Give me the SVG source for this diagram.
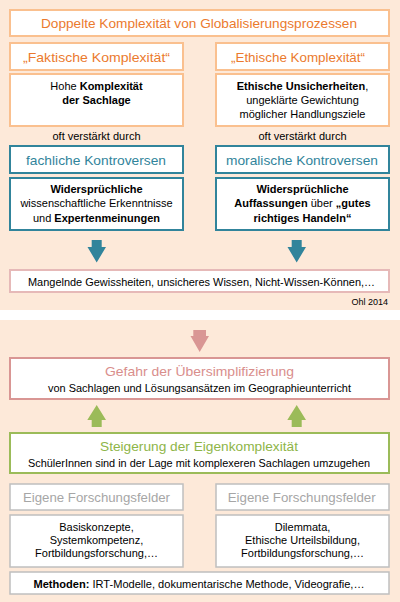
<svg xmlns="http://www.w3.org/2000/svg" width="400" height="602" viewBox="0 0 400 602">
<style>
text{font-family:"Liberation Sans",Arial,sans-serif;text-anchor:middle;fill:#000}
.b{font-weight:bold}
.bx{fill:#fff}
.or{stroke:#FAC08F;stroke-width:2}
.te{stroke:#31849B;stroke-width:2}
.pk{stroke:#E6B9B8;stroke-width:2}
.pk2{stroke:#D99694;stroke-width:2}
.gr{stroke:#9BBB59;stroke-width:2}
.gy{stroke:#BFBFBF;stroke-width:1.5}
.h{font-size:13.5px}
.t{font-size:11px}
.l{font-size:11.5px}
.ot{fill:#EB7A2E}
.tt{fill:#31849B}
.pt{fill:#D98E8C}
.gt{fill:#8EB548}
.yt{fill:#A6A6A6}
</style>
<rect x="0" y="0" width="400" height="310" fill="#FDE9D9"/>
<rect x="0" y="320" width="400" height="282" fill="#FDE9D9"/>

<g id="title"><rect class="bx or" x="10" y="10" width="379" height="26"/>
<text class="h ot" x="199" y="28" textLength="316" lengthAdjust="spacingAndGlyphs">Doppelte Komplexität von Globalisierungsprozessen</text></g>

<g id="faktisch"><rect class="bx or" x="10" y="43" width="173" height="27"/>
<text class="h ot" x="96.5" y="61.5" textLength="147" lengthAdjust="spacingAndGlyphs">„Faktische Komplexität“</text></g>
<g id="ethisch"><rect class="bx or" x="216" y="43" width="173" height="27"/>
<text class="h ot" x="298" y="61.5" textLength="134" lengthAdjust="spacingAndGlyphs">„Ethische Komplexität“</text></g>

<g id="sachlage"><rect class="bx or" x="10" y="74" width="173" height="52"/>
<text class="t" x="96.5" y="90">Hohe <tspan class="b">Komplexität</tspan></text>
<text class="t b" x="96.5" y="103.5">der Sachlage</text></g>
<g id="unsicher"><rect class="bx or" x="216" y="74" width="173" height="52"/>
<text class="t" x="302.5" y="90"><tspan class="b">Ethische Unsicherheiten</tspan>,</text>
<text class="t" x="302.5" y="104">ungeklärte Gewichtung</text>
<text class="t" x="302.5" y="118">möglicher Handlungsziele</text></g>

<text class="t" x="96.5" y="139.5" font-size="10">oft verstärkt durch</text>
<text class="t" x="302.5" y="139.5" font-size="10">oft verstärkt durch</text>

<g id="fachlich"><rect class="bx te" x="10" y="146" width="173" height="27"/>
<text class="h tt" x="96" y="165" textLength="140" lengthAdjust="spacingAndGlyphs">fachliche Kontroversen</text></g>
<g id="moralisch"><rect class="bx te" x="216" y="146" width="173" height="27"/>
<text class="h tt" x="302" y="165" textLength="152" lengthAdjust="spacingAndGlyphs">moralische Kontroversen</text></g>

<g id="erkenntnisse"><rect class="bx te" x="10" y="178" width="173" height="52"/>
<text class="t b" x="96.5" y="192.5">Widersprüchliche</text>
<text class="t" x="96.5" y="206.5">wissenschaftliche Erkenntnisse</text>
<text class="t" x="96.5" y="221.5">und <tspan class="b">Expertenmeinungen</tspan></text></g>
<g id="auffassungen"><rect class="bx te" x="216" y="178" width="173" height="52"/>
<text class="t b" x="302.5" y="192.5">Widersprüchliche</text>
<text class="t" x="302.5" y="206.5"><tspan class="b">Auffassungen</tspan> über <tspan class="b">„gutes</tspan></text>
<text class="t b" x="302.5" y="221.5">richtiges Handeln“</text></g>

<g id="mangelnde"><rect class="bx pk" x="10" y="270" width="379" height="22"/>
<text class="l" x="201.5" y="285.5" textLength="347" lengthAdjust="spacingAndGlyphs">Mangelnde Gewissheiten, unsicheres Wissen, Nicht-Wissen-Können,…</text></g>
<text x="388" y="305" font-size="9" fill="#C4C4C4" style="text-anchor:end">Ohl 2014</text>

<g id="gefahr"><rect class="bx pk2" x="10" y="358" width="379" height="41"/>
<text class="h pt" x="199.5" y="375.5" textLength="189" lengthAdjust="spacingAndGlyphs">Gefahr der Übersimplifizierung</text>
<text class="l" x="199.5" y="391.5" textLength="303" lengthAdjust="spacingAndGlyphs">von Sachlagen und Lösungsansätzen im Geographieunterricht</text></g>

<g id="steigerung"><rect class="bx gr" x="10" y="433" width="379" height="40"/>
<text class="h gt" x="199" y="450.5" textLength="198" lengthAdjust="spacingAndGlyphs">Steigerung der Eigenkomplexität</text>
<text class="l" x="199" y="466.5" textLength="342" lengthAdjust="spacingAndGlyphs">SchülerInnen sind in der Lage mit komplexeren Sachlagen umzugehen</text></g>

<g id="forschung-links"><rect class="bx gy" x="10" y="484" width="173" height="26"/>
<text class="h yt" x="96.5" y="501.5" textLength="147" lengthAdjust="spacingAndGlyphs">Eigene Forschungsfelder</text></g>
<g id="forschung-rechts"><rect class="bx gy" x="216" y="484" width="173" height="26"/>
<text class="h yt" x="301.7" y="501.5" textLength="148" lengthAdjust="spacingAndGlyphs">Eigene Forschungsfelder</text></g>

<g id="felder-links"><rect class="bx gy" x="10" y="515" width="173" height="52"/>
<text class="t" x="96.5" y="530.5">Basiskonzepte,</text>
<text class="t" x="96.5" y="543.5">Systemkompetenz,</text>
<text class="t" x="96.5" y="556.5">Fortbildungsforschung,…</text></g>
<g id="felder-rechts"><rect class="bx gy" x="216" y="515" width="173" height="52"/>
<text class="t" x="302.5" y="530.5">Dilemmata,</text>
<text class="t" x="302.5" y="543.5">Ethische Urteilsbildung,</text>
<text class="t" x="302.5" y="556.5">Fortbildungsforschung,…</text></g>

<g id="methoden"><rect class="bx gy" x="10" y="572" width="379" height="22"/>
<text class="l" x="199" y="587.5" textLength="331" lengthAdjust="spacingAndGlyphs"><tspan class="b">Methoden:</tspan> IRT-Modelle, dokumentarische Methode, Videografie,…</text></g>

<g id="connectors">
<polygon fill="#31849B" points="91.7,240 101.7,240 101.7,247 106,247 96.7,262.5 87.5,247 91.7,247"/>
<polygon fill="#31849B" points="291.7,240 301.7,240 301.7,247 306,247 296.7,262.5 287.5,247 291.7,247"/>
<polygon fill="#D99694" points="193.3,330 206,330 206,336 209,336 199.7,352 190.5,336 193.3,336"/>
<polygon fill="#9BBB59" points="96.7,405 106,420 101.7,420 101.7,427 91.7,427 91.7,420 87.3,420"/>
<polygon fill="#9BBB59" points="296.7,405 306,420 301.7,420 301.7,427 291.7,427 291.7,420 287.3,420"/>
</g>
</svg>
